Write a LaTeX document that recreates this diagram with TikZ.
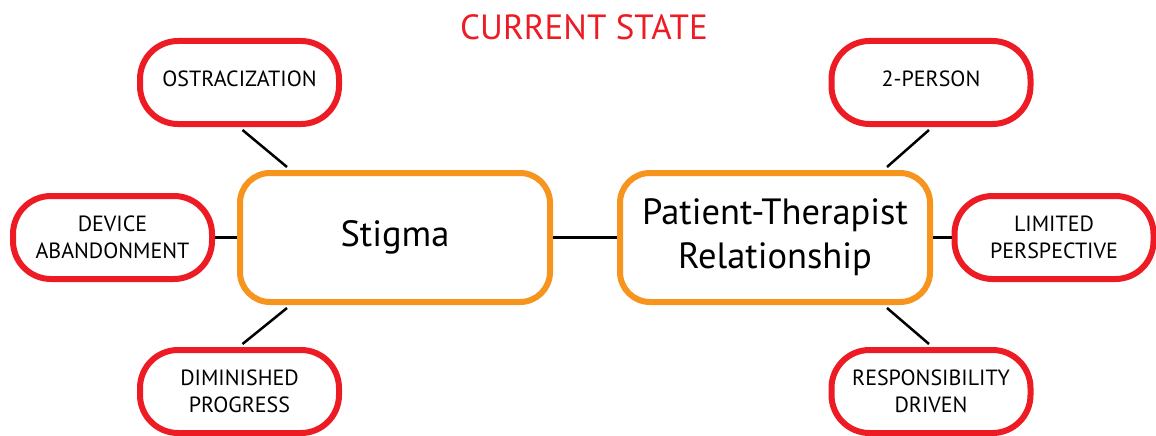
\documentclass[tikz,border=0pt]{standalone}
\usepackage{fontspec}
\setmainfont{PT Sans}
\usetikzlibrary{calc}
\definecolor{boxred}{HTML}{ED1C24}
\definecolor{boxorange}{HTML}{F7941D}
\begin{document}
\begin{tikzpicture}[x=1pt,y=-1pt,
  leaf/.style={draw=boxred,line width=6pt,fill=white,rounded corners=38pt,
    minimum width=199pt,minimum height=83pt,align=center,inner sep=0pt,
    font=\fontsize{22}{27}\selectfont},
  hub/.style={draw=boxorange,line width=6pt,fill=white,rounded corners=30pt,
    minimum width=310pt,minimum height=129pt,align=center,inner sep=0pt,
    font=\fontsize{36.5}{44}\selectfont},
  link/.style={draw=black,line width=2.5pt}]
\useasboundingbox (0,0) rectangle (1156,436);
\node[text=boxred,font=\fontsize{35}{40}\selectfont,anchor=base] (title) at (584,40) {CURRENT STATE};

\node[hub] (stigma) at (395,237.5) {Stigma};
\node[hub] (ptr) at (775,237.5) {Patient-Therapist\\Relationship};

\node[leaf] (ostra) at (239.5,82.5) {};
\node[font=\fontsize{22}{27}\selectfont] (ostratext) at (239.5,78.5) {OSTRACIZATION};
\node[leaf] (device) at (112.5,237.5) {DEVICE\\ABANDONMENT};
\node[leaf] (dimin) at (239.5,391.5) {DIMINISHED\\PROGRESS};

\node[leaf] (person) at (931,82.5) {};
\node[font=\fontsize{22}{27}\selectfont] (persontext) at (931,78.5) {2-PERSON};
\node[leaf] (limited) at (1054,237.5) {LIMITED\\PERSPECTIVE};
\node[leaf] (resp) at (931,391.5) {RESPONSIBILITY\\DRIVEN};

\draw[link] ($(ostra.south)+(3,3)$) -- ($(stigma.north west)+(50,-3)$);
\draw[link] (device.east) -- (stigma.west);
\draw[link] ($(dimin.north)+(3,-3)$) -- ($(stigma.south west)+(50,3)$);
\draw[link] (stigma.east) -- (ptr.west);
\draw[link] ($(person.south)+(-2,3)$) -- ($(ptr.north east)+(-46,-3)$);
\draw[link] (ptr.east) -- (limited.west);
\draw[link] ($(resp.north)+(-2,-3)$) -- ($(ptr.south east)+(-46,3)$);
\end{tikzpicture}
\end{document}
